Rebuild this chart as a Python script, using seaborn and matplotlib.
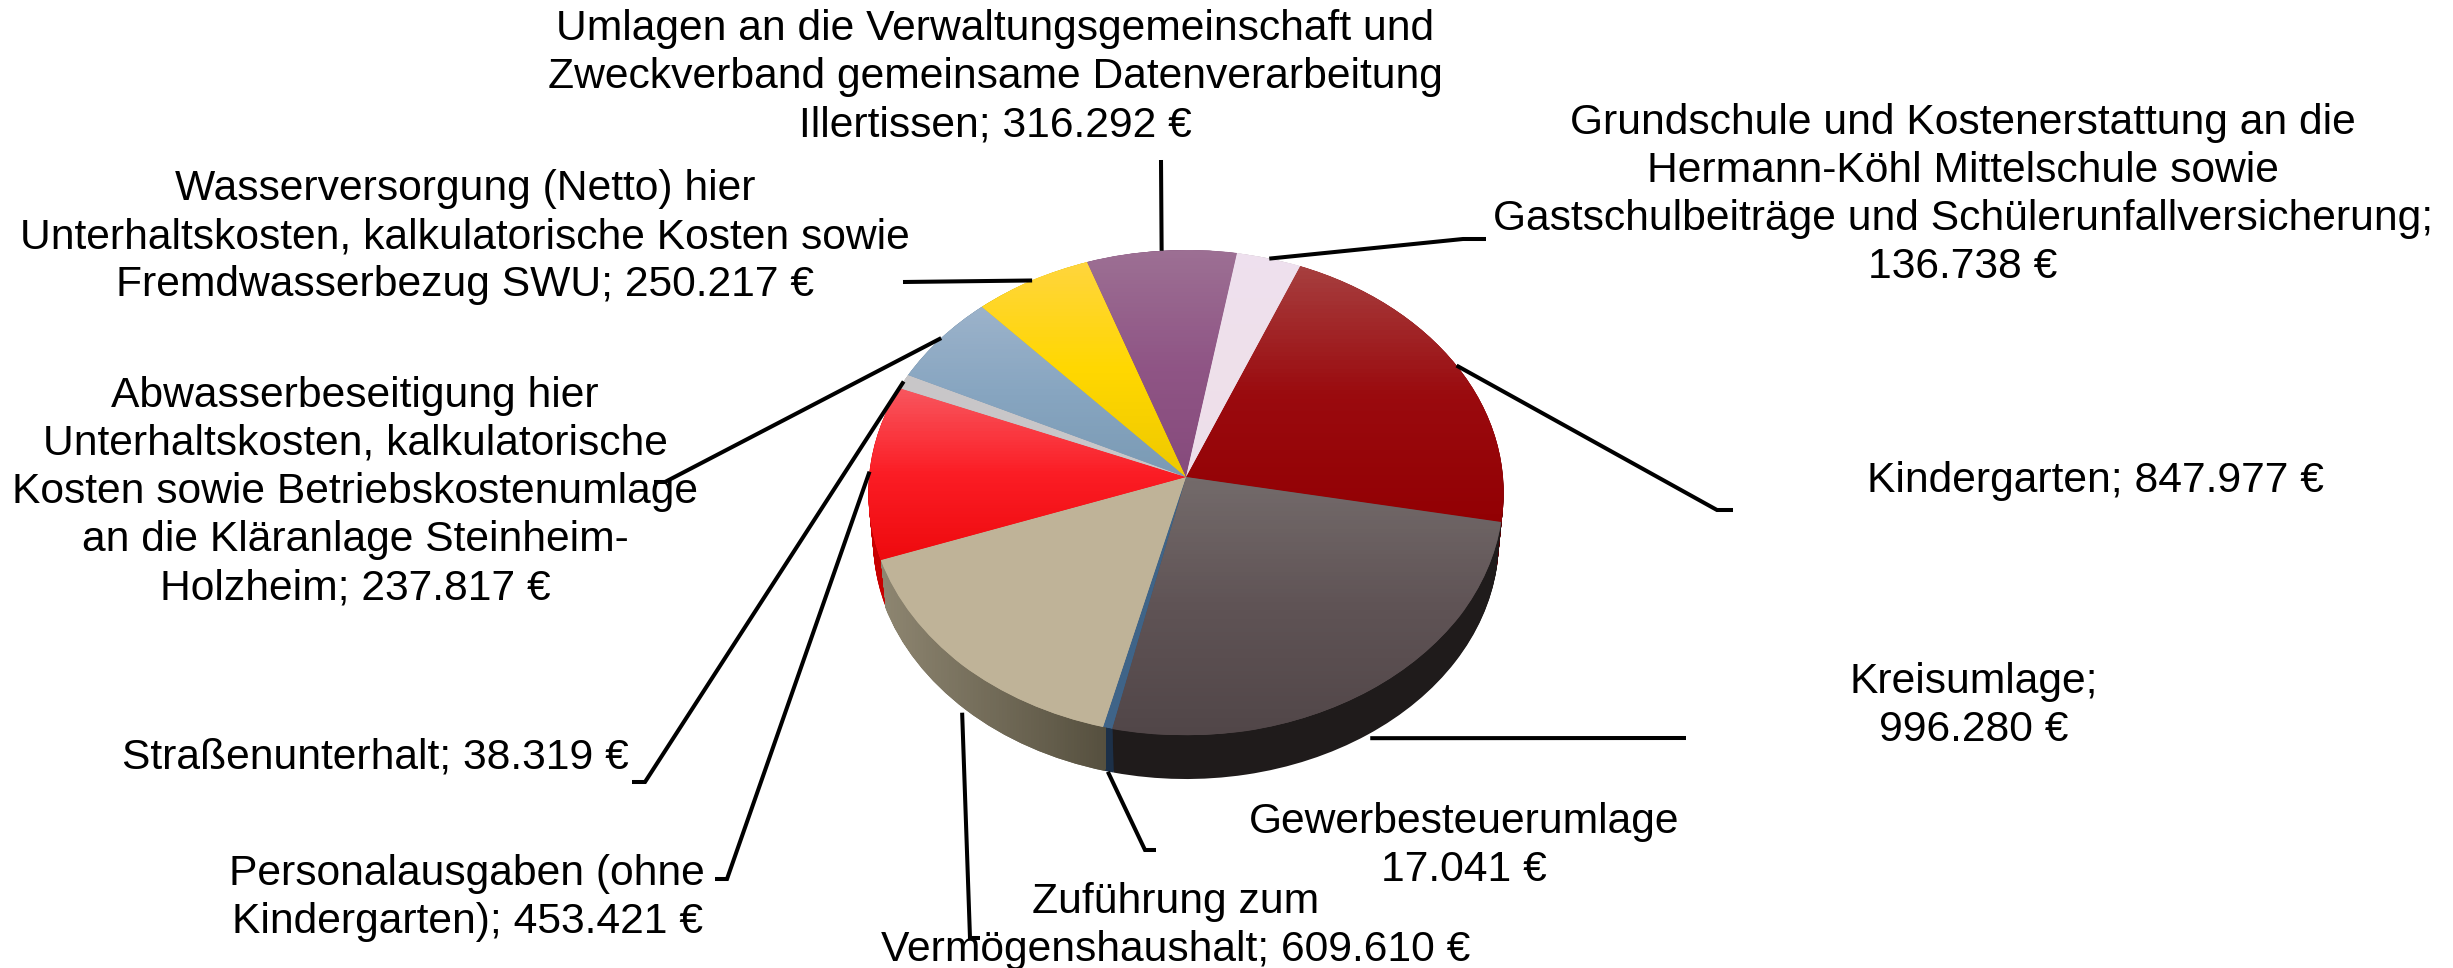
import numpy as np
import matplotlib
matplotlib.use("Agg")
import matplotlib.pyplot as plt
import seaborn as sns
from matplotlib.colors import LinearSegmentedColormap
from matplotlib.path import Path
from matplotlib.transforms import Affine2D, Transform

# values in Euro, clockwise
names = ["Kindergarten", "Kreisumlage", "Gewerbesteuerumlage", "Zuführung", "Personalausgaben",
         "Straßenunterhalt", "Abwasser", "Wasser", "Umlagen", "Grundschule"]
values = [847977, 996280, 17041, 609610, 453421, 38319, 237817, 250217, 316292, 136738]

labels = ["Kindergarten; 847.977 €",
          "Kreisumlage;\n996.280 €",
          "Gewerbesteuerumlage\n17.041 €",
          "Zuführung zum\nVermögenshaushalt; 609.610 €",
          "Personalausgaben (ohne\nKindergarten); 453.421 €",
          "Straßenunterhalt; 38.319 €",
          "Abwasserbeseitigung hier\nUnterhaltskosten, kalkulatorische\nKosten sowie Betriebskostenumlage\nan die Kläranlage Steinheim-\nHolzheim; 237.817 €",
          "Wasserversorgung (Netto) hier\nUnterhaltskosten, kalkulatorische Kosten sowie\nFremdwasserbezug SWU; 250.217 €",
          "Umlagen an die Verwaltungsgemeinschaft und\nZweckverband gemeinsame Datenverarbeitung\nIllertissen; 316.292 €",
          "Grundschule und Kostenerstattung an die\nHermann-Köhl Mittelschule sowie\nGastschulbeiträge und Schülerunfallversicherung;\n136.738 €"]

# top face gradient, top to bottom of each wedge
face_colors = [["#a63e3e", "#9a0a0e", "#920003"],
               ["#736a6a", "#5f5355", "#514648"],
               ["#3f6488", "#3f6488", "#3f6488"],
               ["#bfb398", "#bfb398", "#bfb398"],
               ["#f8565e", "#fb1c24", "#ee0a0e"],
               ["#c8c6c8", "#c8c6c8", "#c8c6c8"],
               ["#9bb2ca", "#87a5c0", "#7a9ab4"],
               ["#ffd53c", "#ffd700", "#eec800"],
               ["#9c6f93", "#8f5585", "#864a7c"],
               ["#eee0ee", "#eee0ea", "#eddeea"]]
side_colors = ["#5c0003", "#1f1b1b", "#1c3048", "#6e6857", "#c80000",
               "#777777", "#55687c", "#a08700", "#5a3252", "#9a8f9a"]

# label centre in pixels, then leader points after the pie edge
label_pos = [(2095, 481), (1974, 706), (1464, 846), (1176, 926), (467, 898),
             (375, 758), (355, 492), (465, 237), (995, 77), (1963, 195)]
leaders = [[(1717, 510), (1733, 510)],
           [(1686, 738)],
           [(1145, 850), (1156, 850)],
           [(970, 938), (980, 938)],
           [(727, 879), (715, 879)],
           [(645, 782), (632, 782)],
           [(665, 482), (654, 482)],
           [(903, 282)],
           [(1161, 160)],
           [(1463, 239), (1486, 239)]]
leader_drop = [0, 48, 44, 48, 0, 0, 0, 0, 0, 0]

cx, cy = 1186, 477
rx, ry, tilt = 317, 241.5, 0.0645
W, H = 2453, 968


class Tilt(Transform):
    # unit pie seen from the front, far edge is smaller than the near edge
    input_dims = 2
    output_dims = 2

    def transform_non_affine(self, xy):
        xy = np.asarray(xy, dtype=float)
        k = 1 + tilt * xy[:, 1]
        return np.column_stack([rx * xy[:, 0] / k, ry * xy[:, 1] / k])


sns.set_theme(style="white")
plt.rcParams["font.family"] = ["Liberation Sans", "DejaVu Sans"]

fig = plt.figure(figsize=(W / 100, H / 100), dpi=100, facecolor="white")
ax = fig.add_axes([0, 0, 1, 1])
tilted = Tilt()

# side of the cake: stack of pies going down
steps = np.linspace(48, 0, 49)
radii = np.linspace(0.985, 1.0, 49)
side_paths = [[] for v in values]
for d, r in zip(steps, radii):
    wedges, _ = ax.pie(values, startangle=67.5, counterclock=False, radius=r,
                       colors=sns.color_palette(side_colors), wedgeprops=dict(linewidth=0, zorder=1))
    trans = tilted + Affine2D().translate(0, -d)
    for i, w in enumerate(wedges):
        w.set_transform(trans + ax.transData)
        side_paths[i].append(trans.transform_path(w.get_path()))

# the beige side fades left to right
side_cmap = LinearSegmentedColormap.from_list("side", ["#8f8772", "#56503f"])
xs = np.linspace(-312, -80, 81)
side_mesh = ax.pcolormesh(xs, [-340, 80], xs[:-1].reshape(1, -1), cmap=side_cmap, zorder=2)
side_mesh.set_clip_path(Path.make_compound_path(*side_paths[3]), ax.transData)

# top face
top_wedges, _ = ax.pie(values, startangle=67.5, counterclock=False, colors=[c[1] for c in face_colors],
                       wedgeprops=dict(linewidth=0, zorder=3))
for w, cols in zip(top_wedges, face_colors):
    w.set_transform(tilted + ax.transData)
    box = tilted.transform_path(w.get_path()).get_extents()
    ys = np.linspace(box.y0, box.y1, 61)
    cmap = LinearSegmentedColormap.from_list("face", cols[::-1])
    mesh = ax.pcolormesh([-340, 340], ys, ys[:-1].reshape(-1, 1), cmap=cmap, zorder=4)
    mesh.set_clip_path(w)

ax.set_aspect("auto")
ax.set_xlim(-cx, W - cx)
ax.set_ylim(cy - H, cy)
ax.axis("off")

# labels and leader lines in pixel coordinates
ov = fig.add_axes([0, 0, 1, 1])
ov.set_xlim(0, W)
ov.set_ylim(H, 0)
ov.axis("off")
ov.patch.set_alpha(0)

for w, txt, pos, pts, drop in zip(top_wedges, labels, label_pos, leaders, leader_drop):
    a = np.deg2rad((w.theta1 + w.theta2) / 2)
    x0, y0 = tilted.transform([[np.cos(a), np.sin(a)]])[0]
    line = [(cx + x0, cy - y0 + drop)] + pts
    ov.plot([p[0] for p in line], [p[1] for p in line], color="black", lw=2.9,
            solid_capstyle="butt", solid_joinstyle="miter", zorder=5)
    ov.text(pos[0], pos[1], txt, ha="center", va="center", multialignment="center",
            fontsize=30.7, color="black", linespacing=1.26, zorder=6)

fig.savefig("out.png", dpi=100, facecolor="white")
